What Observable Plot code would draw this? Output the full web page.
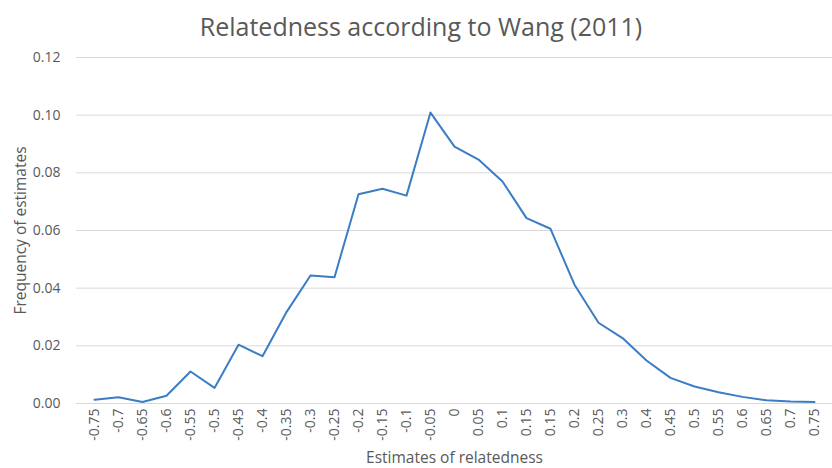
<!DOCTYPE html>
<html>
<head>
<meta charset="utf-8">
<script src="https://cdn.jsdelivr.net/npm/d3@7"></script>
<script src="https://cdn.jsdelivr.net/npm/@observablehq/plot@0.6"></script>
<style>
  html, body { margin: 0; padding: 0; background: #fff; overflow: hidden; width: 832px; height: 468px; }
  #title { font-family: "Open Sans", sans-serif; font-size: 25px; color: #595959; text-align: center; width: 842px; height: 40px; line-height: 40px; padding-top: 6px; box-sizing: border-box; }
  svg { display: block; max-width: none !important; }
  g[aria-label="x-axis label"], g[aria-label="y-axis label"] { font-size: 15.5px; }
  g[aria-label="x-axis label"] text, g[aria-label="y-axis label"] text { font-size: 15.5px; }
</style>
</head>
<body>
<div id="title">Relatedness according to Wang (2011)</div>
<div id="chart"></div>
<script>
const title = "Relatedness according to Wang (2011)";
const categories = ["-0.75","-0.7","-0.65","-0.6","-0.55","-0.5","-0.45","-0.4","-0.35","-0.3","-0.25","-0.2","-0.15","-0.1","-0.05","0","0.05","0.1","0.15","0.15","0.2","0.25","0.3","0.4","0.45","0.5","0.55","0.6","0.65","0.7","0.75"];
const frequency = [0.0013,0.0022,0.0005,0.0027,0.0111,0.0054,0.0204,0.0164,0.0317,0.0444,0.0438,0.0726,0.0745,0.0721,0.1009,0.0891,0.0846,0.0770,0.0643,0.0606,0.0412,0.0280,0.0227,0.0149,0.0089,0.0059,0.0039,0.0023,0.0011,0.0007,0.0005];
const yTicks = [0, 0.02, 0.04, 0.06, 0.08, 0.10, 0.12];
const xLabel = "Estimates of relatedness";
const yLabel = "Frequency of estimates";

const data = categories.map((c, i) => ({i, c, v: frequency[i]}));
const idx = data.map(d => d.i);

const chart = Plot.plot({
  width: 832,
  height: 428,
  marginLeft: 76,
  marginRight: 0,
  marginTop: 17,
  marginBottom: 65,
  style: {fontFamily: "'Open Sans', sans-serif", fontSize: "14px", color: "#595959", background: "#fff", maxWidth: "none"},
  x: {type: "point", domain: idx, padding: 0.25},
  y: {domain: [0, 0.12]},
  marks: [
    Plot.gridY(yTicks, {stroke: "#d9d9d9", strokeOpacity: 1, strokeWidth: 1}),
    Plot.axisY(yTicks, {tickSize: 0, tickPadding: 16, tickFormat: d3.format(".2f"), label: yLabel, labelAnchor: "center", labelOffset: 62, labelArrow: "none", fontSize: 14}),
    Plot.axisX(idx, {tickSize: 0, tickPadding: 5, tickRotate: -90, tickFormat: i => categories[i], label: xLabel, labelAnchor: "center", labelOffset: 59, labelArrow: "none", fontSize: 14}),
    Plot.line(data, {x: "i", y: "v", stroke: "#3b7dc4", strokeWidth: 2})
  ]
});
document.getElementById("chart").appendChild(chart);
</script>
</body>
</html>
